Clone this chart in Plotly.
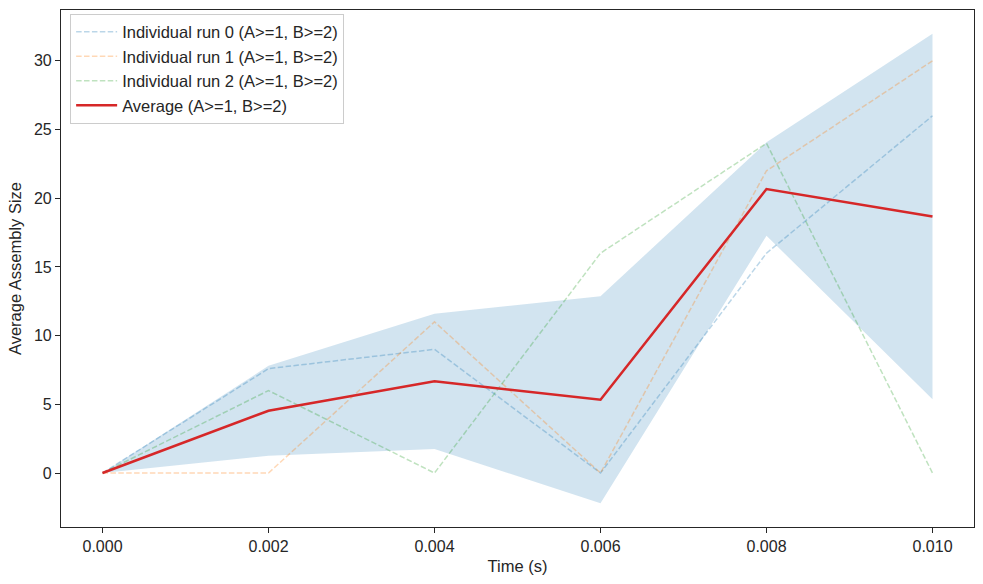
import plotly.graph_objects as go

time_s = [0.000, 0.002, 0.004, 0.006, 0.008, 0.010]
run0 = [0, 7.6, 9, 0, 16, 26]
run1 = [0, 0, 11, 0, 22, 30]
run2 = [0, 6, 0, 16, 24, 0]
average = [0, 4.53, 6.67, 5.33, 20.67, 18.67]
std_dev = [0, 3.27, 4.92, 7.54, 3.40, 13.30]

runs = [run0, run1, run2]
run_colors = ["rgba(31,119,180,0.3)", "rgba(255,127,14,0.3)", "rgba(44,160,44,0.3)"]
run_names = ["Individual run 0 (A>=1, B>=2)", "Individual run 1 (A>=1, B>=2)", "Individual run 2 (A>=1, B>=2)"]

lower = [m - s for m, s in zip(average, std_dev)]
upper = [m + s for m, s in zip(average, std_dev)]

fig = go.Figure()
fig.add_trace(go.Scatter(x=time_s, y=lower, mode="lines", line=dict(width=0, color="rgba(0,0,0,0)"),
                         showlegend=False, hoverinfo="skip"))
fig.add_trace(go.Scatter(x=time_s, y=upper, mode="lines", line=dict(width=0, color="rgba(0,0,0,0)"),
                         fill="tonexty", fillcolor="rgba(31,119,180,0.2)", showlegend=False, hoverinfo="skip"))
for r, c, n in zip(runs, run_colors, run_names):
    fig.add_trace(go.Scatter(x=time_s, y=r, mode="lines", name=n,
                             line=dict(color=c, width=1.5, dash="5.5px,2.4px")))
fig.add_trace(go.Scatter(x=time_s, y=average, mode="lines", name="Average (A>=1, B>=2)",
                         line=dict(color="#d62728", width=2.5)))

axis_common = dict(showline=True, linecolor="#262626", linewidth=1.25, mirror=True,
                   ticks="outside", ticklen=5, tickwidth=1.25, tickcolor="#262626",
                   showgrid=False, zeroline=False,
                   tickfont=dict(size=16, color="#262626"),
                   title_font=dict(size=16.5, color="#262626"))

fig.update_layout(
    width=983, height=584,
    margin=dict(l=61, r=9, t=10, b=57),
    plot_bgcolor="white", paper_bgcolor="white",
    font=dict(family="Liberation Sans, Arial, sans-serif", color="#262626"),
    xaxis=dict(range=[-0.0005, 0.0105], tickvals=[0, 0.002, 0.004, 0.006, 0.008, 0.010],
               ticktext=["0.000", "0.002", "0.004", "0.006", "0.008", "0.010"],
               title=dict(text="Time (s)", standoff=6), **axis_common),
    yaxis=dict(range=[-3.93, 33.7], tickvals=[0, 5, 10, 15, 20, 25, 30],
               title=dict(text="Average Assembly Size", standoff=8), **axis_common),
    legend=dict(x=0.01, y=0.993, xanchor="left", yanchor="top", traceorder="normal",
                bgcolor="rgba(255,255,255,0.8)", bordercolor="#cccccc", borderwidth=1,
                font=dict(size=16.5, color="#262626"), tracegroupgap=0, itemwidth=41),
    showlegend=True,
)

fig.write_html("out.html")
